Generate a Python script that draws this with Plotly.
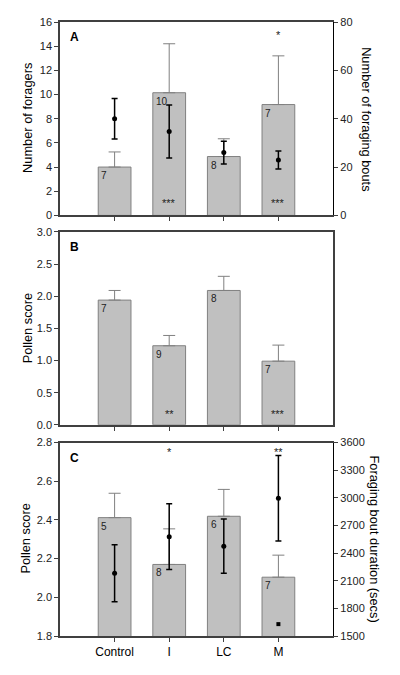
import plotly.graph_objects as go

categories = ["Control", "I", "LC", "M"]

# Panel A
foragers_mean = [4.0, 10.15, 4.87, 9.17]
foragers_se = [1.25, 4.05, 1.47, 4.03]
foragers_n = ["7", "10", "8", "7"]
bouts_mean = [40.0, 34.7, 26.0, 22.9]
bouts_se = [8.4, 11.0, 4.7, 3.7]
a_stars_in = ["", "***", "", "***"]
a_stars_top = ["", "", "", "*"]

# Panel B
pollenB_mean = [1.94, 1.23, 2.09, 0.99]
pollenB_se = [0.15, 0.16, 0.22, 0.25]
pollenB_n = ["7", "9", "8", "7"]
b_stars_in = ["", "**", "", "***"]

# Panel C
pollenC_mean = [2.412, 2.17, 2.419, 2.104]
pollenC_se = [0.126, 0.184, 0.139, 0.114]
pollenC_n = ["5", "8", "6", "7"]
duration_mean = [2181, 2578, 2475, 2996]
duration_se = [309, 357, 295, 464]
c_stars_top = ["", "*", "", "**"]
outlier_cat = ["M"]
outlier_val = [1629]

x = list(range(len(categories)))
xo = [categories.index(c) for c in outlier_cat]

FONT = "Arial, Liberation Sans, sans-serif"
BAR_FILL = "#c0c0c0"
BAR_LINE = "#808080"
AXC = "#404040"

fig = go.Figure()

def bars(yv, se, xa, ya):
    fig.add_trace(go.Bar(
        x=x, y=yv, width=0.6, xaxis=xa, yaxis=ya,
        marker=dict(color=BAR_FILL, line=dict(color=BAR_LINE, width=1)),
        error_y=dict(type="data", symmetric=False, array=se, arrayminus=[0]*len(se),
                     color=BAR_LINE, thickness=1, width=6),
        showlegend=False))

def points(yv, se, xa, ya):
    fig.add_trace(go.Scatter(
        x=x, y=yv, mode="markers", xaxis=xa, yaxis=ya,
        marker=dict(color="black", size=5),
        error_y=dict(type="data", array=se, color="black", thickness=1.5, width=3),
        showlegend=False))

bars(foragers_mean, foragers_se, "x", "y")
points(bouts_mean, bouts_se, "x", "y4")
bars(pollenB_mean, pollenB_se, "x2", "y2")
bars(pollenC_mean, pollenC_se, "x3", "y3")
points(duration_mean, duration_se, "x3", "y5")
fig.add_trace(go.Scatter(x=xo, y=outlier_val, mode="markers", xaxis="x3", yaxis="y5",
                         marker=dict(color="black", size=4, symbol="square"), showlegend=False))

ann = []
def nlabels(vals, labels, xr, yr):
    for i, (v, t) in enumerate(zip(vals, labels)):
        ann.append(dict(x=i - 0.28, y=v, xref=xr, yref=yr, text=t, showarrow=False,
                        xanchor="left", yanchor="top", font=dict(size=10, family=FONT, color="#222"),
                        yshift=-1))

def stars(labels, yv, xr, yr, size=11):
    for i, t in enumerate(labels):
        if t:
            ann.append(dict(x=i, y=yv, xref=xr, yref=yr, text=t, showarrow=False,
                            xanchor="center", yanchor="middle",
                            font=dict(size=size, family=FONT, color="#222")))

nlabels(foragers_mean, foragers_n, "x", "y")
nlabels(pollenB_mean, pollenB_n, "x2", "y2")
nlabels(pollenC_mean, pollenC_n, "x3", "y3")
stars(a_stars_in, 1.0, "x", "y")
stars(a_stars_top, 14.9, "x", "y")
stars(b_stars_in, 0.16, "x2", "y2")
stars(c_stars_top, 2.75, "x3", "y3")

for letter, yr, yv in [("A", "y", 15.5), ("B", "y2", 2.9), ("C", "y3", 2.765)]:
    xr = {"y": "x", "y2": "x2", "y3": "x3"}[yr]
    ann.append(dict(x=-0.86, y=yv, xref=xr, yref=yr, text="<b>%s</b>" % letter, showarrow=False,
                    xanchor="left", yanchor="top", font=dict(size=12, family=FONT, color="black")))

TF = dict(size=12.8, family=FONT, color="black")
# left titles
for txt, xc, yc in [("Number of foragers", -0.119, 0.843), ("Pollen score", -0.121, 0.501),
                    ("Pollen score", -0.126, 0.158)]:
    ann.append(dict(x=xc, y=yc, xref="paper", yref="paper", text=txt, textangle=-90,
                    xanchor="center", yanchor="middle", showarrow=False, font=TF))
# right titles
for txt, xc, yc in [("Number of foraging bouts", 1.1227, 0.841),
                    ("Foraging bout duration (secs)", 1.152, 0.158)]:
    ann.append(dict(x=xc, y=yc, xref="paper", yref="paper", text=txt, textangle=90,
                    xanchor="center", yanchor="middle", showarrow=False, font=TF))

xcommon = dict(range=[-1, 4], tickvals=x, ticks="outside", ticklen=4, tickcolor=AXC,
               showline=True, linecolor=AXC, linewidth=1.5, mirror=True, showgrid=False,
               zeroline=False)
ycommon = dict(ticks="outside", ticklen=4, tickcolor=AXC, showline=True, linecolor=AXC,
               linewidth=1.5, showgrid=False, zeroline=False,
               tickfont=dict(size=11, family=FONT, color="#222"))
rcommon = dict(ticks="outside", ticklen=4, tickcolor=AXC, showline=True, linecolor="black",
               linewidth=1.2, showgrid=False, zeroline=False, side="right",
               tickfont=dict(size=11, family=FONT, color="#222"))

# page body has an 8px margin; size the figure so it fits the 400x675 window exactly
fig.update_layout(
    width=384, height=659,
    margin=dict(l=52, r=59, t=8, b=29),
    paper_bgcolor="white", plot_bgcolor="white",
    font=dict(family=FONT, size=11, color="black"),
    xaxis=dict(**xcommon, anchor="y", domain=[0, 1], ticktext=[""] * 4),
    xaxis2=dict(**xcommon, anchor="y2", domain=[0, 1], ticktext=[""] * 4),
    xaxis3=dict(**xcommon, anchor="y3", domain=[0, 1], ticktext=categories,
                tickfont=dict(size=12, family=FONT, color="black")),
    yaxis=dict(**ycommon, domain=[0.685, 1.0], range=[0, 16], dtick=2, anchor="x"),
    yaxis2=dict(**ycommon, domain=[0.344, 0.658], range=[0, 3], dtick=0.5, tickformat=".1f",
                anchor="x2", mirror=True),
    yaxis3=dict(**ycommon, domain=[0, 0.315], range=[1.8, 2.8], dtick=0.2, tickformat=".1f",
                anchor="x3"),
    yaxis4=dict(**rcommon, overlaying="y", anchor="x", range=[0, 80], dtick=20),
    yaxis5=dict(**rcommon, overlaying="y3", anchor="x3", range=[1500, 3600], dtick=300),
    annotations=ann,
)

fig.write_html("out.html")
